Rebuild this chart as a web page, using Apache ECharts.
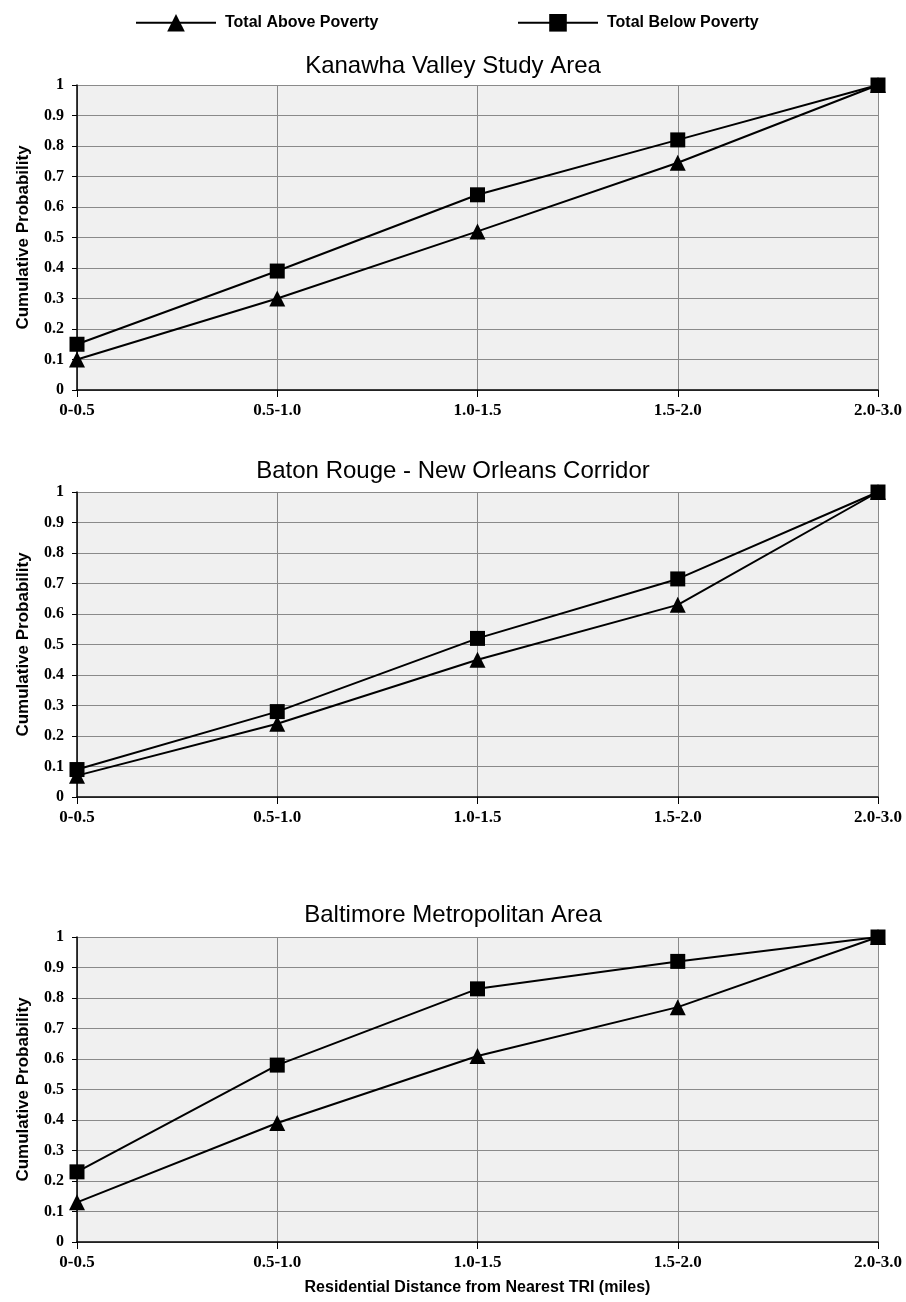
<!DOCTYPE html>
<html>
<head>
<meta charset="utf-8">
<script src="https://cdn.jsdelivr.net/npm/echarts@6/dist/echarts.min.js"></script>
<style>
  html, body { margin: 0; padding: 0; background: #fff; }
  #chart1 { width: 906px; height: 1302px; }
</style>
</head>
<body>
<div id="chart1"></div>
<script>
// data
var categories = ['0-0.5', '0.5-1.0', '1.0-1.5', '1.5-2.0', '2.0-3.0'];
var yTicks = [0, 0.1, 0.2, 0.3, 0.4, 0.5, 0.6, 0.7, 0.8, 0.9, 1];
var panelTitles = ['Kanawha Valley Study Area', 'Baton Rouge - New Orleans Corridor', 'Baltimore Metropolitan Area'];
var seriesNames = ['Total Above Poverty', 'Total Below Poverty'];

var kanawhaAbove = [0.10, 0.30, 0.52, 0.745, 1.0];
var kanawhaBelow = [0.15, 0.39, 0.64, 0.82, 1.0];
var batonAbove = [0.07, 0.24, 0.45, 0.63, 1.0];
var batonBelow = [0.09, 0.28, 0.52, 0.715, 1.0];
var baltimoreAbove = [0.13, 0.39, 0.61, 0.77, 1.0];
var baltimoreBelow = [0.23, 0.58, 0.83, 0.92, 1.0];

var panels = [
    {above: kanawhaAbove, below: kanawhaBelow},
    {above: batonAbove, below: batonBelow},
    {above: baltimoreAbove, below: baltimoreBelow}
];

var _chart1 = null;
function initChart1() {
    _chart1 = echarts.init(document.getElementById('chart1'));

    var gridTops = [85, 492, 937];
    var titleTops = [49, 454, 898];
    var sansFont = 'Liberation Sans, Arial, sans-serif';
    var serifFont = 'Liberation Serif, Times New Roman, serif';

    var grids = [], xAxes = [], yAxes = [], titles = [], series = [];

    for (var i = 0; i < panels.length; i++) {
        grids.push({
            left: 77, right: 28, top: gridTops[i], height: 305,
            show: true, backgroundColor: '#f0f0f0', borderWidth: 0
        });
        titles.push({
            text: panelTitles[i], left: 'center', top: titleTops[i],
            textStyle: {fontFamily: sansFont, fontSize: 24, fontWeight: 'normal', color: '#000'}
        });
        xAxes.push({
            type: 'category', gridIndex: i, data: categories, boundaryGap: false,
            name: i === 2 ? 'Residential Distance from Nearest TRI (miles)' : '',
            nameLocation: 'middle', nameGap: 38,
            nameTextStyle: {fontFamily: sansFont, fontSize: 16, fontWeight: 'bold', color: '#000'},
            axisLine: {lineStyle: {color: '#000', width: 1.5}},
            axisTick: {show: true, length: 7, lineStyle: {color: '#000'}},
            axisLabel: {fontFamily: serifFont, fontSize: 17, fontWeight: 'bold', color: '#000', margin: 12},
            splitLine: {show: true, lineStyle: {color: '#8a8a8a', width: 1}}
        });
        yAxes.push({
            type: 'value', gridIndex: i, min: 0, max: 1, interval: 0.1,
            name: 'Cumulative Probability', nameLocation: 'middle', nameGap: 45,
            nameTextStyle: {fontFamily: sansFont, fontSize: 17, fontWeight: 'bold', color: '#000'},
            axisLine: {show: true, lineStyle: {color: '#000', width: 1.5}},
            axisTick: {show: true, length: 5, lineStyle: {color: '#000'}},
            axisLabel: {
                fontFamily: serifFont, fontSize: 16, fontWeight: 'bold', color: '#000', margin: 13,
                formatter: function (v) { return String(Math.round(v * 10) / 10); }
            },
            splitLine: {show: true, lineStyle: {color: '#8a8a8a', width: 1}}
        });
        series.push({
            name: seriesNames[0], type: 'line', xAxisIndex: i, yAxisIndex: i,
            data: panels[i].above, symbol: 'triangle', symbolSize: 16,
            lineStyle: {color: '#000', width: 2}, itemStyle: {color: '#000'}
        });
        series.push({
            name: seriesNames[1], type: 'line', xAxisIndex: i, yAxisIndex: i,
            data: panels[i].below, symbol: 'rect', symbolSize: 15,
            lineStyle: {color: '#000', width: 2}, itemStyle: {color: '#000'}
        });
    }

    var legendText = {fontFamily: sansFont, fontSize: 16, fontWeight: 'bold', color: '#000', padding: [0, 0, 0, 4]};
    var option = {
        animation: false,
        backgroundColor: '#fff',
        title: titles,
        legend: [
            {data: [seriesNames[0]], left: 130, top: 9, itemWidth: 80, itemHeight: 22, textStyle: legendText},
            {data: [seriesNames[1]], left: 512, top: 9, itemWidth: 80, itemHeight: 22, textStyle: legendText}
        ],
        grid: grids,
        xAxis: xAxes,
        yAxis: yAxes,
        series: series
    };

    _chart1.setOption(option);
}
initChart1();
</script>
</body>
</html>
